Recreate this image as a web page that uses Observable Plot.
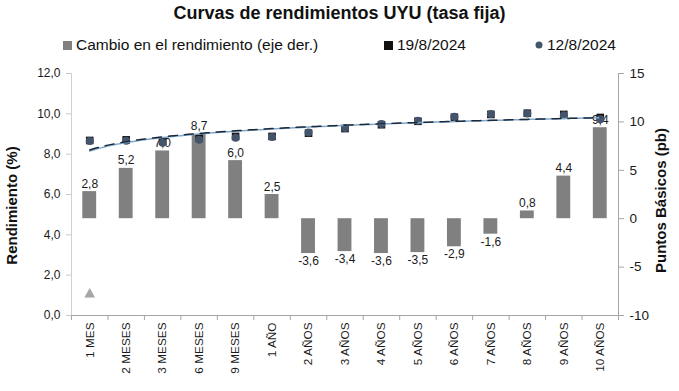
<!DOCTYPE html>
<html><head><meta charset="utf-8">
<script src="https://cdn.jsdelivr.net/npm/d3@7"></script>
<script src="https://cdn.jsdelivr.net/npm/@observablehq/plot@0.6"></script>
<style>
body{margin:0;background:#fff;font-family:Arial,"Liberation Sans",sans-serif;}
#wrap{position:relative;width:679px;height:391px;overflow:hidden;}
#head{position:relative;height:58px;}
.title{position:absolute;left:0;width:679px;top:3px;text-align:center;font-weight:bold;font-size:18px;color:#111;}
.leg{position:absolute;top:36px;height:18px;font-size:15.5px;color:#111;display:flex;align-items:center;white-space:nowrap;}
.leg svg{margin-right:4px;}
</style></head><body>
<div id="wrap">
  <div id="head">
    <div class="title">Curvas de rendimientos UYU (tasa fija)</div>
    <div class="leg" style="left:63px"><svg width="9" height="9"><rect width="9" height="9" fill="#808080"/></svg>Cambio en el rendimiento (eje der.)</div>
    <div class="leg" style="left:384px"><svg width="9" height="9"><rect width="9" height="9" fill="#111"/></svg>19/8/2024</div>
    <div class="leg" style="left:535px"><svg width="8" height="8"><circle cx="4" cy="4" r="3.5" fill="#44546a"/></svg>12/8/2024</div>
  </div>
  <div id="chart"></div>
</div>
<script>
// ---- data ----
const categories = ["1 MES","2 MESES","3 MESES","6 MESES","9 MESES","1 AÑO","2 AÑOS","3 AÑOS","4 AÑOS","5 AÑOS","6 AÑOS","7 AÑOS","8 AÑOS","9 AÑOS","10 AÑOS"];
const cambio = [2.8, 5.2, 7.0, 8.7, 6.0, 2.5, -3.6, -3.4, -3.6, -3.5, -2.9, -1.6, 0.8, 4.4, 9.4]; // pb, right axis
const rend19 = [8.68, 8.71, 8.64, 8.81, 8.88, 8.88, 9.04, 9.27, 9.46, 9.63, 9.83, 9.97, 10.03, 9.97, 9.82];
const rend12 = [8.65, 8.66, 8.57, 8.72, 8.82, 8.85, 9.08, 9.30, 9.50, 9.66, 9.86, 9.99, 10.02, 9.93, 9.73];
const otroCat = ["1 MES"];
const otroVal = [1.05];
const leftTicks = [0, 2, 4, 6, 8, 10, 12];
const rightTicks = [-10, -5, 0, 5, 10, 15];
const leftDomain = [0, 12];
const rightDomain = [-10, 15];

// ---- helpers ----
const toLeft = v => leftDomain[0] + (v - rightDomain[0]) * (leftDomain[1] - leftDomain[0]) / (rightDomain[1] - rightDomain[0]);
const toRight = v => rightDomain[0] + (v - leftDomain[0]) * (rightDomain[1] - rightDomain[0]) / (leftDomain[1] - leftDomain[0]);
const fmt1 = v => v.toFixed(1).replace(".", ",");

const data = categories.map((c, i) => ({cat: c, i, cambio: cambio[i], r19: rend19[i], r12: rend12[i]}));
const otros = otroCat.map((c, k) => ({i: categories.indexOf(c), v: otroVal[k]}));

// Excel-style logarithmic trendline, fitted to the data
function logFit(vals) {
  const xs = vals.map((v, i) => Math.log(i + 1));
  const mx = d3.mean(xs), my = d3.mean(vals);
  const b = d3.sum(xs, (x, i) => (x - mx) * (vals[i] - my)) / d3.sum(xs, x => (x - mx) ** 2);
  return {a: my - b * mx, b};
}
const f19 = logFit(rend19), f12 = logFit(rend12);
const tSteps = d3.range(0, categories.length - 1 + 1e-9, 0.1);
const trend19 = tSteps.map(t => ({x: t + 0.5, y: f19.a + f19.b * Math.log(t + 1)}));
const trend12 = tSteps.map(t => ({x: t + 0.5, y: f12.a + f12.b * Math.log(t + 1)}));

const n = categories.length;
const chart = Plot.plot({
  width: 679, height: 333,
  marginLeft: 71, marginRight: 61, marginTop: 15, marginBottom: 76,
  x: {domain: [0, n], axis: null},
  y: {domain: leftDomain, axis: null},
  style: {fontFamily: "Arial, 'Liberation Sans', sans-serif", color: "#1a1a1a", background: "#fff"},
  marks: [
    Plot.ruleX([0], {stroke: "#d0d0d0"}),
    Plot.ruleX([n], {stroke: "#a6a6a6"}),
    Plot.axisY({anchor: "left", ticks: leftTicks, tickFormat: fmt1, tickSize: 5, tickPadding: 6, stroke: "#c8c8c8", fontSize: 12, label: null}),
    Plot.axisY({anchor: "right", ticks: rightTicks.map(toLeft), tickFormat: d => String(Math.round(toRight(d))), tickSize: 5, tickPadding: 6, stroke: "#a6a6a6", fontSize: 13.5, label: null}),
    Plot.axisX({anchor: "bottom", ticks: d3.range(n + 1), tickFormat: () => "", tickSize: 5, stroke: "#a6a6a6", label: null}),
    Plot.axisX({anchor: "bottom", ticks: d3.range(n).map(i => i + 0.5), tickFormat: d => categories[Math.round(d - 0.5)], tickSize: 0, tickPadding: 7, tickRotate: -90, fontSize: 11.8, label: null}),
    Plot.rectY(data, {x1: d => d.i + 0.31, x2: d => d.i + 0.69, y1: d => toLeft(0), y2: d => toLeft(d.cambio), fill: "#808080"}),
    Plot.ruleY([0], {stroke: "#a6a6a6"}),
    Plot.text(data.filter(d => d.cambio >= 0), {x: d => d.i + 0.5, y: d => toLeft(d.cambio), text: d => fmt1(d.cambio), lineAnchor: "bottom", dy: -4, fontSize: 12, fill: "#1a1a1a"}),
    Plot.text(data.filter(d => d.cambio < 0), {x: d => d.i + 0.5, y: d => toLeft(d.cambio), text: d => fmt1(d.cambio), lineAnchor: "top", dy: 3, fontSize: 12, fill: "#1a1a1a"}),
    Plot.dot(otros, {x: d => d.i + 0.5, y: "v", symbol: "triangle", r: 4, fill: "#a6a6a6", stroke: null}),
    Plot.dot(data, {x: d => d.i + 0.5, y: "r19", symbol: "square", r: 4.3, fill: "#151515", stroke: null}),
    Plot.dot(data, {x: d => d.i + 0.5, y: "r12", symbol: "circle", r: 4, fill: "#44546a", stroke: null}),
    Plot.line(trend12, {x: "x", y: "y", stroke: "#7fa8cc", strokeWidth: 1.5}),
    Plot.line(trend19, {x: "x", y: "y", stroke: "#1c2a3a", strokeWidth: 1.5, strokeDasharray: "9,7"}),
    Plot.text(["Rendimiento (%)"], {frameAnchor: "left", textAnchor: "middle", lineAnchor: "middle", dx: -59.5, dy: 11, rotate: -90, fontWeight: "bold", fontSize: 15, fill: "#111"}),
    Plot.text(["Puntos Básicos (pb)"], {frameAnchor: "right", textAnchor: "middle", lineAnchor: "middle", dx: 43, dy: 6, rotate: -90, fontWeight: "bold", fontSize: 15, fill: "#111"})
  ]
});
document.getElementById("chart").appendChild(chart);
</script>
</body></html>
